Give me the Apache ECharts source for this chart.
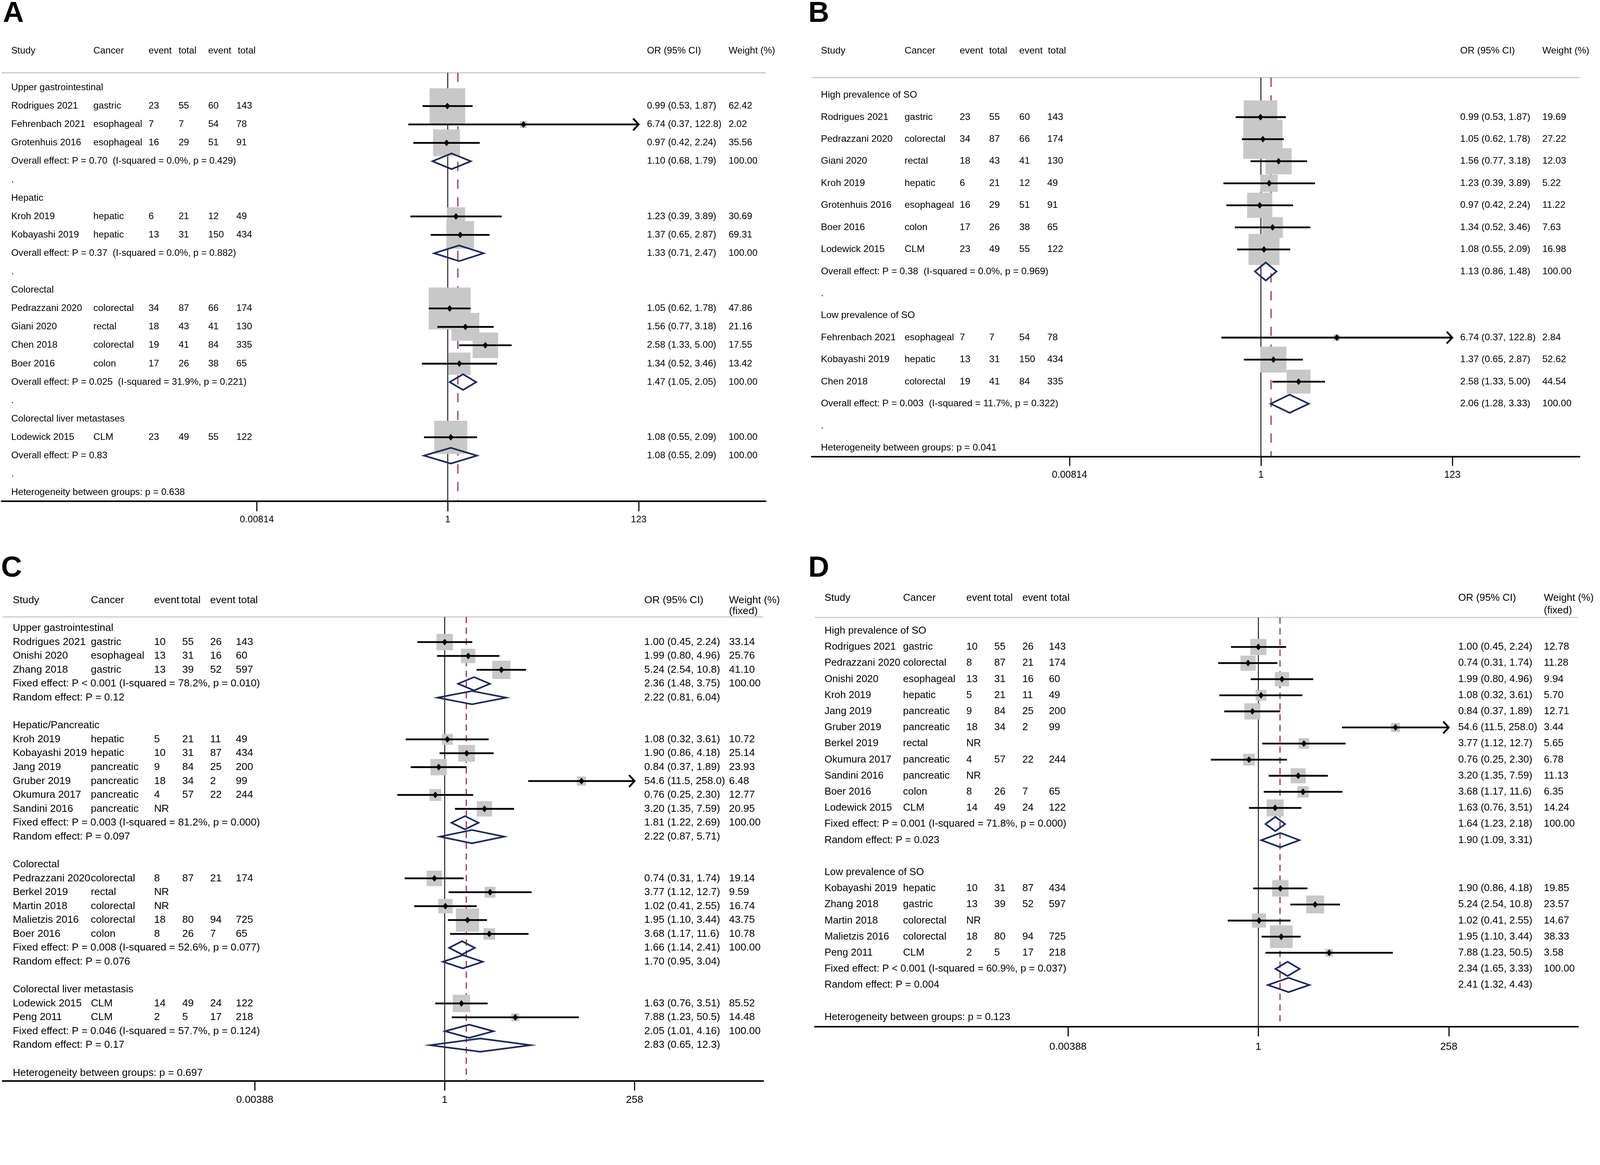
<!DOCTYPE html>
<html><head><meta charset="utf-8">
<script src="https://cdn.jsdelivr.net/npm/echarts@6/dist/echarts.min.js"></script>
<style>html,body{margin:0;padding:0;background:#fff;overflow:hidden}#c{width:100vw;height:100vh}</style>
</head><body><div id="c"></div>
<script>
// ================= DATA =================
// ---- Study set used in panels A and B ----
const studyAB   = ["Rodrigues 2021","Fehrenbach 2021","Grotenhuis 2016","Kroh 2019","Kobayashi 2019","Pedrazzani 2020","Giani 2020","Chen 2018","Boer 2016","Lodewick 2015"];
const cancerAB  = ["gastric","esophageal","esophageal","hepatic","hepatic","colorectal","rectal","colorectal","colon","CLM"];
const event1AB  = [23,7,16,6,13,34,18,19,17,23];
const total1AB  = [55,7,29,21,31,87,43,41,26,49];
const event2AB  = [60,54,51,12,150,66,41,84,38,55];
const total2AB  = [143,78,91,49,434,174,130,335,65,122];
const orAB      = [0.99,6.74,0.97,1.23,1.37,1.05,1.56,2.58,1.34,1.08];
const loAB      = [0.53,0.37,0.42,0.39,0.65,0.62,0.77,1.33,0.52,0.55];
const hiAB      = [1.87,122.8,2.24,3.89,2.87,1.78,3.18,5.00,3.46,2.09];
const boxWeightAB = [16.05,0.6,9.14,4.25,9.73,22.18,9.80,8.24,6.22,13.84]; // overall weight %
const overallAB = 1.29;
const ticksAB = [0.00814, 1, 123];
const tickLabelsAB = ["0.00814","1","123"];

// ---- Panel A ----
const groupsA  = ["Upper gastrointestinal","Hepatic","Colorectal","Colorectal liver metastases"];
const membersA = [[0,1,2],[3,4],[5,6,7,8],[9]];
const weightsA = [[62.42,2.02,35.56],[30.69,69.31],[47.86,21.16,17.55,13.42],[100.00]];
const pooledTextA = [["Overall effect: P = 0.70  (I-squared = 0.0%, p = 0.429)"],["Overall effect: P = 0.37  (I-squared = 0.0%, p = 0.882)"],["Overall effect: P = 0.025  (I-squared = 31.9%, p = 0.221)"],["Overall effect: P = 0.83"]];
const pooledOrA = [[1.10],[1.33],[1.47],[1.08]];
const pooledLoA = [[0.68],[0.71],[1.05],[0.55]];
const pooledHiA = [[1.79],[2.47],[2.05],[2.09]];
const pooledWtA = [[100.00],[100.00],[100.00],[100.00]];
const hetA = "Heterogeneity between groups: p = 0.638";

// ---- Panel B ----
const groupsB  = ["High prevalence of SO","Low prevalence of SO"];
const membersB = [[0,5,6,3,2,8,9],[1,4,7]];
const weightsB = [[19.69,27.22,12.03,5.22,11.22,7.63,16.98],[2.84,52.62,44.54]];
const pooledTextB = [["Overall effect: P = 0.38  (I-squared = 0.0%, p = 0.969)"],["Overall effect: P = 0.003  (I-squared = 11.7%, p = 0.322)"]];
const pooledOrB = [[1.13],[2.06]];
const pooledLoB = [[0.86],[1.28]];
const pooledHiB = [[1.48],[3.33]];
const pooledWtB = [[100.00],[100.00]];
const hetB = "Heterogeneity between groups: p = 0.041";

// ---- Study set used in panels C and D ----
const studyCD  = ["Rodrigues 2021","Onishi 2020","Zhang 2018","Kroh 2019","Kobayashi 2019","Jang 2019","Gruber 2019","Okumura 2017","Sandini 2016","Pedrazzani 2020","Berkel 2019","Martin 2018","Malietzis 2016","Boer 2016","Lodewick 2015","Peng 2011"];
const cancerCD = ["gastric","esophageal","gastric","hepatic","hepatic","pancreatic","pancreatic","pancreatic","pancreatic","colorectal","rectal","colorectal","colorectal","colon","CLM","CLM"];
const event1CD = [10,13,13,5,10,9,18,4,null,8,null,null,18,8,14,2];
const total1CD = [55,31,39,21,31,84,34,57,null,87,null,null,80,26,49,5];
const event2CD = [26,16,52,11,87,25,2,22,null,21,null,null,94,7,24,17];
const total2CD = [143,60,597,49,434,200,99,244,null,174,null,null,725,65,122,218];
const orCD = [1.00,1.99,5.24,1.08,1.90,0.84,54.6,0.76,3.20,0.74,3.77,1.02,1.95,3.68,1.63,7.88];
const loCD = [0.45,0.80,2.54,0.32,0.86,0.37,11.5,0.25,1.35,0.31,1.12,0.41,1.10,1.17,0.76,1.23];
const hiCD = [2.24,4.96,10.8,3.61,4.18,1.89,258.0,2.30,7.59,1.74,12.7,2.55,3.44,11.6,3.51,50.5];
const boxWeightCD = [7.67,5.96,9.43,3.42,7.94,7.63,2.4,4.07,6.68,6.77,3.39,5.87,15.33,3.81,8.54,1.8]; // overall weight %
const overallCD = 1.88;
const ticksCD = [0.00388, 1, 258];
const tickLabelsCD = ["0.00388","1","258"];

// ---- Panel C ----
const groupsC  = ["Upper gastrointestinal","Hepatic/Pancreatic","Colorectal","Colorectal liver metastasis"];
const membersC = [[0,1,2],[3,4,5,6,7,8],[9,10,11,12,13],[14,15]];
const weightsC = [[33.14,25.76,41.10],[10.72,25.14,23.93,6.48,12.77,20.95],[19.14,9.59,16.74,43.75,10.78],[85.52,14.48]];
const pooledTextC = [
  ["Fixed effect: P < 0.001 (I-squared = 78.2%, p = 0.010)","Random effect: P = 0.12"],
  ["Fixed effect: P = 0.003 (I-squared = 81.2%, p = 0.000)","Random effect: P = 0.097"],
  ["Fixed effect: P = 0.008 (I-squared = 52.6%, p = 0.077)","Random effect: P = 0.076"],
  ["Fixed effect: P = 0.046 (I-squared = 57.7%, p = 0.124)","Random effect: P = 0.17"]];
const pooledOrC = [[2.36,2.22],[1.81,2.22],[1.66,1.70],[2.05,2.83]];
const pooledLoC = [[1.48,0.81],[1.22,0.87],[1.14,0.95],[1.01,0.65]];
const pooledHiC = [[3.75,6.04],[2.69,5.71],[2.41,3.04],[4.16,12.3]];
const pooledWtC = [[100.00,null],[100.00,null],[100.00,null],[100.00,null]];
const hetC = "Heterogeneity between groups: p = 0.697";

// ---- Panel D ----
const groupsD  = ["High prevalence of SO","Low prevalence of SO"];
const membersD = [[0,9,1,3,5,6,10,7,8,13,14],[4,2,11,12,15]];
const weightsD = [[12.78,11.28,9.94,5.70,12.71,3.44,5.65,6.78,11.13,6.35,14.24],[19.85,23.57,14.67,38.33,3.58]];
const pooledTextD = [
  ["Fixed effect: P = 0.001 (I-squared = 71.8%, p = 0.000)","Random effect: P = 0.023"],
  ["Fixed effect: P < 0.001 (I-squared = 60.9%, p = 0.037)","Random effect: P = 0.004"]];
const pooledOrD = [[1.64,1.90],[2.34,2.41]];
const pooledLoD = [[1.23,1.09],[1.65,1.32]];
const pooledHiD = [[2.18,3.31],[3.33,4.43]];
const pooledWtD = [[100.00,null],[100.00,null]];
const hetD = "Heterogeneity between groups: p = 0.123";

const headerLabels = ["Study","Cancer","event","total","event","total","OR (95% CI)","Weight (%)"];
const headerSub = "(fixed)";

// ================= LAYOUT =================
const dom = document.getElementById('c');
const W = window.innerWidth || 4317, H = window.innerHeight || 2982;
const S = W / 1568;      // layout units -> px
const P = W / 4317;      // reference px -> px
const FONT = "'Liberation Sans', Arial, Helvetica, sans-serif";
const RED = '#8e1732', NAVY = '#1c2a5a', BOXC = '#c8c8c8';

const setAB = {name:studyAB, cancer:cancerAB, e1:event1AB, t1:total1AB, e2:event2AB, t2:total2AB, or:orAB, lo:loAB, hi:hiAB, bw:boxWeightAB};
const setCD = {name:studyCD, cancer:cancerCD, e1:event1CD, t1:total1CD, e2:event2CD, t2:total2CD, or:orCD, lo:loCD, hi:hiCD, bw:boxWeightCD};

const panels = [
  {letter:'A', set:setAB, groups:groupsA, members:membersA, weights:weightsA,
   pooled:{text:pooledTextA, or:pooledOrA, lo:pooledLoA, hi:pooledHiA, wt:pooledWtA}, het:hetA,
   ticks:ticksAB, tickLabels:tickLabelsAB, overall:overallAB, sep:'dot', sub:false,
   L:{x0:1.5, x1:750.4, one:438.8, half:187.15, grayY:71.3, axisY:491.1, row0:85.9, sp:18.03, headY:50,
      labelY:509.4, tickLen:9.9, fs:25.5, tfs:25.5, k:24, dh:15.4, dash:[25,23],
      cols:[11,91.5,145.6,175,204,231.6,634,714], hcols:[11,91.5,145.6,175,204,233,634,714], letterX:8, letterY:37}},
  {letter:'B', set:setAB, groups:groupsB, members:membersB, weights:weightsB,
   pooled:{text:pooledTextB, or:pooledOrB, lo:pooledLoB, hi:pooledHiB, wt:pooledWtB}, het:hetB,
   ticks:ticksAB, tickLabels:tickLabelsAB, overall:overallAB, sep:'dot', sub:false,
   L:{x0:795.4, x1:1548, one:1235.7, half:187.6, grayY:76, axisY:447.5, row0:93.2, sp:21.6, headY:50,
      labelY:465.5, tickLen:9.1, fs:25.8, tfs:26.3, k:22.5, dh:17.8, dash:[25,23],
      cols:[804.5,886.5,940.5,969.4,998.9,1026.3,1431,1511.4], hcols:[804.5,886.5,940.5,969.4,998.9,1027,1431,1511.4], letterX:2181, letterY:37}},
  {letter:'C', set:setCD, groups:groupsC, members:membersC, weights:weightsC,
   pooled:{text:pooledTextC, or:pooledOrC, lo:pooledLoC, hi:pooledHiC, wt:pooledWtC}, het:hetC,
   ticks:ticksCD, tickLabels:tickLabelsCD, overall:overallCD, sep:'blank', sub:true,
   L:{x0:2.5, x1:748, one:435.8, half:186.1, grayY:604.5, axisY:1059, row0:615.5, sp:13.62, headY:588.3, subY:598.8,
      labelY:1078, tickLen:9.6, fs:27.9, tfs:27.8, k:16, dh:13.0, dash:[17,12],
      cols:[12.5,89,151,178.6,206,231.1,631.4,714.4], hcols:[12.5,89,151,177.5,206,233.5,631.4,714.4], letterX:3, letterY:1534}},
  {letter:'D', set:setCD, groups:groupsD, members:membersD, weights:weightsD,
   pooled:{text:pooledTextD, or:pooledOrD, lo:pooledLoD, hi:pooledHiD, wt:pooledWtD}, het:hetD,
   ticks:ticksCD, tickLabels:tickLabelsCD, overall:overallCD, sep:'blank', sub:true,
   L:{x0:798.5, x1:1546.5, one:1233.2, half:186.6, grayY:605, axisY:1006, row0:618.2, sp:15.77, headY:586, subY:598.3,
      labelY:1026, tickLen:9.5, fs:27.3, tfs:27.8, k:15.7, dh:14.0, dash:[17,12],
      cols:[808,885,947,974.4,1001.9,1027.9,1429,1513], hcols:[808,885,947,973.8,1001.9,1029.5,1429,1513], letterX:2181, letterY:1534}}
];

const fmt = v => v >= 10 ? v.toFixed(1) : v.toFixed(2);
const ciText = (o,l,h) => fmt(o) + ' (' + fmt(l) + ', ' + fmt(h) + ')';

function buildRows(p){
  const rows = [{t:'decor', r:0}];
  let r = 0;
  p.groups.forEach((g, gi) => {
    rows.push({t:'group', label:g, r:r++});
    p.members[gi].forEach((si, j) => rows.push({t:'study', s:si, w:p.weights[gi][j], r:r++}));
    p.pooled.text[gi].forEach((txt, j) => rows.push({t:'pooled', label:txt,
      or:p.pooled.or[gi][j], lo:p.pooled.lo[gi][j], hi:p.pooled.hi[gi][j], w:p.pooled.wt[gi][j], r:r++}));
    rows.push({t:p.sep, r:r++});
  });
  rows.push({t:'het', label:p.het, r:r++});
  return rows;
}

function textEl(x, y, str, fs, opts){
  opts = opts || {};
  return {type:'text', x:x, y:y, z2:5, silent:true,
    style:{text:str, fontSize:fs, fontFamily:FONT, fontWeight:opts.weight||'normal', fill:'#000',
           align:opts.align||'left', verticalAlign:'middle'}};
}

const grids = [], xAxes = [], yAxes = [], series = [];
panels.forEach((p, i) => {
  const L = p.L;
  const lnTicks = p.ticks.map(Math.log);
  const pxPerLn = L.half / Math.log(p.ticks[2]);
  const xmin = (L.x0 - L.one) / pxPerLn, xmax = (L.x1 - L.one) / pxPerLn;
  const ymin = (L.grayY - L.row0) / L.sp, ymax = (L.axisY - L.row0) / L.sp;
  const tfs = L.tfs * P;
  grids.push({left:L.x0*S, top:L.grayY*S, width:(L.x1-L.x0)*S, height:(L.axisY-L.grayY)*S, containLabel:false});
  xAxes.push({gridIndex:i, type:'value', min:xmin, max:xmax, position:'bottom',
    axisLine:{onZero:false, lineStyle:{color:'#000', width:4*P}},
    axisTick:{customValues:lnTicks, length:L.tickLen*S, lineStyle:{color:'#000', width:3*P}},
    axisLabel:{customValues:lnTicks, color:'#000', fontSize:tfs, fontFamily:FONT,
      margin:(L.labelY - L.axisY)*S - tfs/2,
      formatter:function(v){ let b=0, bd=1e9; lnTicks.forEach((t,k)=>{const d=Math.abs(t-v); if(d<bd){bd=d;b=k;}}); return p.tickLabels[b]; }},
    splitLine:{show:false}});
  yAxes.push({gridIndex:i, type:'value', inverse:true, min:ymin, max:ymax, show:false});

  const rows = buildRows(p);
  const set = p.set;
  const col = L.cols.map(c => c*S);
  const hcol = L.hcols.map(c => c*S);
  const fs = L.fs * P;
  const tickMax = p.ticks[2];

  series.push({type:'custom', coordinateSystem:'cartesian2d', xAxisIndex:i, yAxisIndex:i,
    clip:false, silent:true, animation:false,
    encode:{x:0, y:1},
    data: rows.map(rw => [0, rw.r]),
    renderItem: function(params, api){
      const rw = rows[params.dataIndex];
      const cs = params.coordSys;
      const yOf = r => api.coord([0, r])[1];
      const xOf = v => api.coord([Math.log(v), 0])[0];
      const ch = [];
      if (rw.t === 'decor') {
        const top = cs.y, bot = cs.y + cs.height;
        ch.push({type:'line', z2:0, shape:{x1:cs.x, y1:top, x2:cs.x+cs.width, y2:top}, style:{stroke:BOXC, lineWidth:3*P}});
        const x1 = xOf(1);
        ch.push({type:'line', z2:0, shape:{x1:x1, y1:top, x2:x1, y2:bot}, style:{stroke:'#000', lineWidth:2.3*P}});
        const xo = xOf(p.overall);
        ch.push({type:'line', z2:0, shape:{x1:xo, y1:top, x2:xo, y2:bot}, style:{stroke:RED, lineWidth:2.7*P, lineDash:L.dash.map(d=>d*P)}});
        const hy = L.headY * S;
        headerLabels.forEach((h, k) => ch.push(textEl(hcol[k], hy, h, fs)));
        if (p.sub) ch.push(textEl(hcol[7], L.subY*S, headerSub, fs));
        ch.push(textEl(L.letterX*P, L.letterY*P, p.letter, 78*P, {weight:'bold'}));
        return {type:'group', children:ch};
      }
      const y = yOf(rw.r);
      if (rw.t === 'group' || rw.t === 'het') {
        ch.push(textEl(col[0], y, rw.label, fs));
      } else if (rw.t === 'dot') {
        ch.push(textEl(col[0], y, '.', fs));
      } else if (rw.t === 'study') {
        const s = rw.s;
        ch.push(textEl(col[0], y, set.name[s], fs));
        ch.push(textEl(col[1], y, set.cancer[s], fs));
        if (set.e1[s] == null) {
          ch.push(textEl(col[2], y, 'NR', fs));
        } else {
          ch.push(textEl(col[2], y, String(set.e1[s]), fs));
          ch.push(textEl(col[3], y, String(set.t1[s]), fs));
          ch.push(textEl(col[4], y, String(set.e2[s]), fs));
          ch.push(textEl(col[5], y, String(set.t2[s]), fs));
        }
        ch.push(textEl(col[6], y, ciText(set.or[s], set.lo[s], set.hi[s]), fs));
        ch.push(textEl(col[7], y, rw.w.toFixed(2), fs));
        const xc = xOf(set.or[s]);
        const xl = xOf(set.lo[s]);
        const arrow = set.hi[s] >= tickMax * 0.99;
        const xh = xOf(Math.min(set.hi[s], tickMax));
        const bs = L.k * P * Math.sqrt(set.bw[s]);
        ch.push({type:'rect', z2:1, shape:{x:xc-bs/2, y:y-bs/2, width:bs, height:bs}, style:{fill:BOXC}});
        ch.push({type:'line', z2:2, shape:{x1:xl, y1:y, x2:xh, y2:y}, style:{stroke:'#000', lineWidth:4.8*P}});
        if (arrow) ch.push({type:'polyline', z2:2, shape:{points:[[xh-15*P,y-16*P],[xh,y],[xh-15*P,y+16*P]]}, style:{stroke:'#000', lineWidth:4.8*P, fill:null}});
        const mw = 7.5*P, mh = 9*P;
        ch.push({type:'polygon', z2:3, shape:{points:[[xc,y-mh],[xc+mw,y],[xc,y+mh],[xc-mw,y]]}, style:{fill:'#000'}});
      } else if (rw.t === 'pooled') {
        ch.push(textEl(col[0], y, rw.label, fs));
        ch.push(textEl(col[6], y, ciText(rw.or, rw.lo, rw.hi), fs));
        if (rw.w != null) ch.push(textEl(col[7], y, rw.w.toFixed(2), fs));
        const xc = xOf(rw.or), xl = xOf(rw.lo), xh = xOf(rw.hi);
        const hh = L.dh * S / 2;
        ch.push({type:'polygon', z2:4, shape:{points:[[xl,y],[xc,y-hh],[xh,y],[xc,y+hh]]},
          style:{fill:'rgba(0,0,0,0)', stroke:NAVY, lineWidth:4.4*P, lineJoin:'miter'}});
      }
      return {type:'group', children:ch};
    }
  });
});

const chart = echarts.init(dom, null, {renderer:'canvas', width:W, height:H});
chart.setOption({backgroundColor:'#fff', animation:false, grid:grids, xAxis:xAxes, yAxis:yAxes, series:series});
</script>
</body></html>
